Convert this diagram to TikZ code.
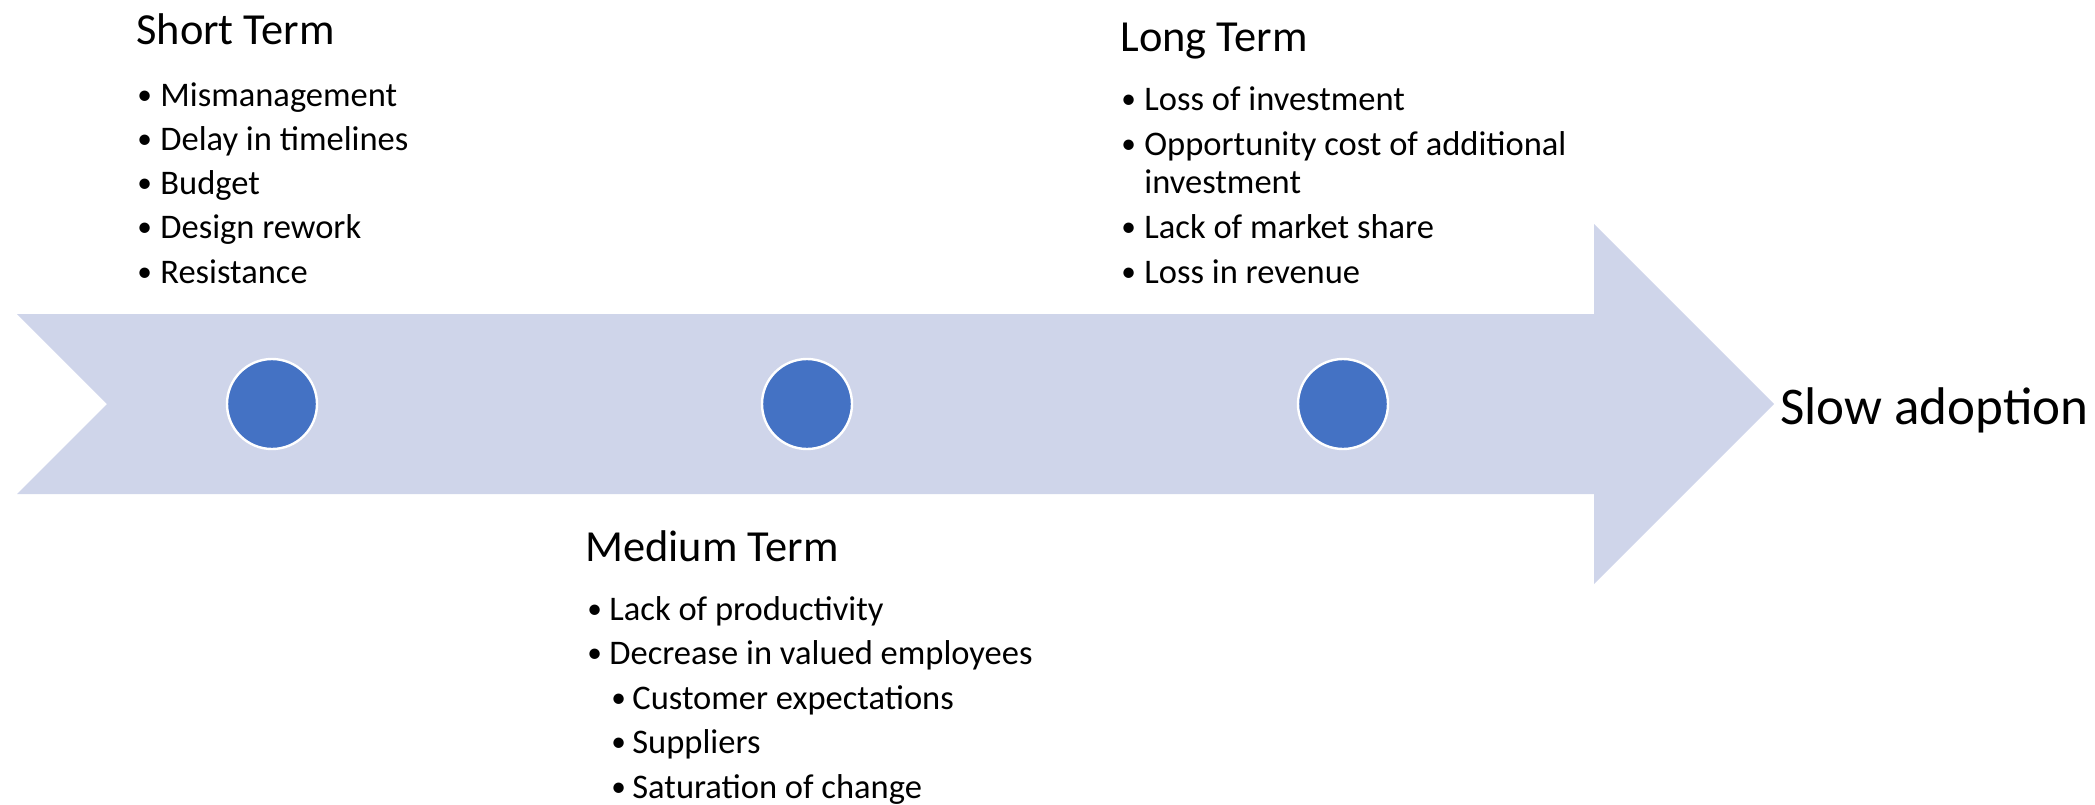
\documentclass[tikz,border=0pt]{standalone}
\usepackage{fontspec}
\setmainfont{Carlito}
\definecolor{arrowfill}{HTML}{CFD5EA}
\definecolor{dotblue}{HTML}{4472C4}
\newcommand\bul[1]{\makebox[#1][l]{\raisebox{0.12ex}{\scalebox{0.85}{•}}}}
\begin{document}
\begin{tikzpicture}[x=0.5pt,y=-0.5pt,
  head/.style={anchor=base west,inner sep=0,font=\fontsize{22.2}{26}\selectfont},
  item/.style={anchor=base west,inner sep=0,font=\fontsize{17.25}{20}\selectfont},
  goal/.style={anchor=base west,inner sep=0,font=\fontsize{26.5}{30}\selectfont},
  dot/.style={circle,fill=dotblue,draw=white,line width=1.2pt,minimum size=45pt,inner sep=0}]
\useasboundingbox (0,0) rectangle (2095,804);
% timeline arrow
\fill[arrowfill] (17,314) -- (1594,314) -- (1594,224) -- (1774,404) -- (1594,584) -- (1594,494) -- (17,494) -- (107,404) -- cycle;
% dots
\node[dot] (c1) at (272,404) {};
\node[dot] (c2) at (807,404) {};
\node[dot] (c3) at (1343,404) {};
% goal
\node[goal] (slow) at (1780,424) {Slow adoption};
% short term
\node[head] (st) at (136,44) {Short Term};
\node[item] (st1) at (137,106) {\bul{11.5pt}Mismanagement};
\node[item] (st2) at (137,150) {\bul{11.5pt}Delay in timelines};
\node[item] (st3) at (137,194) {\bul{11.5pt}Budget};
\node[item] (st4) at (137,238) {\bul{11.5pt}Design rework};
\node[item] (st5) at (137,283) {\bul{11.5pt}Resistance};
% long term
\node[head] (lt) at (1120,51) {Long Term};
\node[item] (lt1) at (1121,110) {\bul{11.5pt}Loss of investment};
\node[item] (lt2) at (1121,155) {\bul{11.5pt}Opportunity cost of additional};
\node[item] (lt2b) at (1144,193) {investment};
\node[item] (lt3) at (1121,238) {\bul{11.5pt}Lack of market share};
\node[item] (lt4) at (1121,283) {\bul{11.5pt}Loss in revenue};
% medium term
\node[head] (mt) at (585,561) {Medium Term};
\node[item] (mt1) at (587,620) {\bul{11pt}Lack of productivity};
\node[item] (mt2) at (587,664) {\bul{11pt}Decrease in valued employees};
\node[item] (mt3) at (611,709) {\bul{10.5pt}Customer expectations};
\node[item] (mt4) at (611,753) {\bul{10.5pt}Suppliers};
\node[item] (mt5) at (611,798) {\bul{10.5pt}Saturation of change};
\end{tikzpicture}
\end{document}
